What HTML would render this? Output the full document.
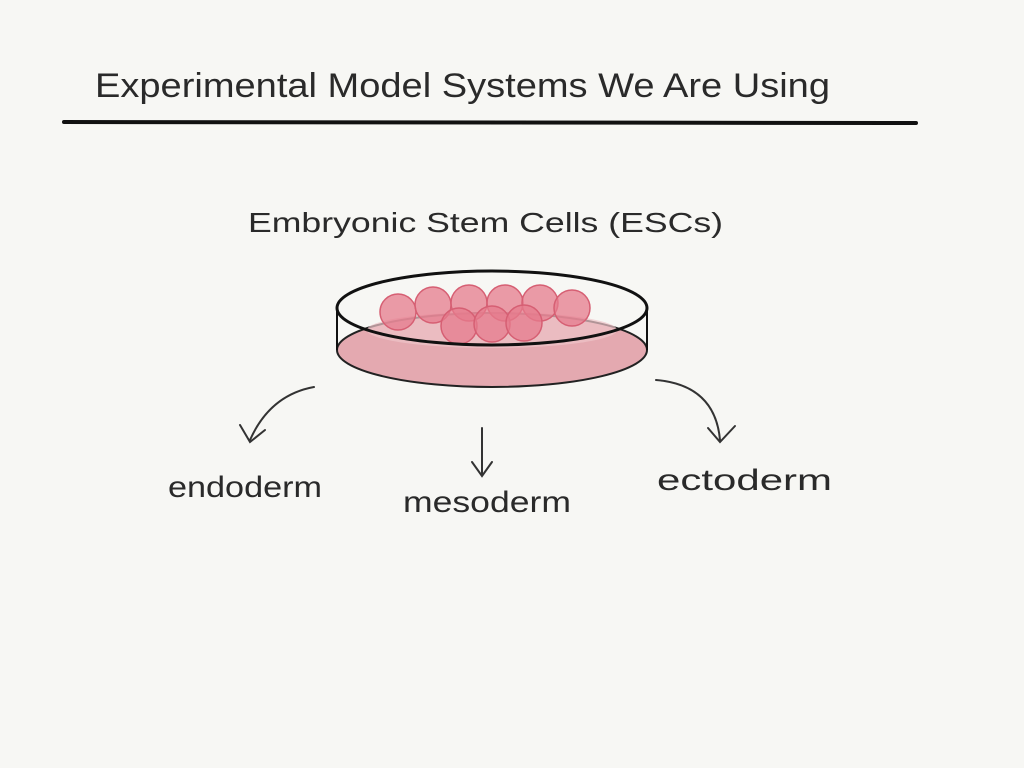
<!DOCTYPE html>
<html><head><style>
body{margin:0;background:#f7f7f4;}
svg{display:block}
text{font-family:"Liberation Sans",sans-serif;fill:#2a2a2a}
</style></head><body>
<svg width="1024" height="768" viewBox="0 0 1024 768">
<rect width="1024" height="768" fill="#f7f7f4"/>
<text x="95" y="97" font-size="34" textLength="735" lengthAdjust="spacingAndGlyphs">Experimental Model Systems We Are Using</text>
<line x1="64" y1="122" x2="916" y2="123" stroke="#111" stroke-width="4" stroke-linecap="round"/>
<text x="248" y="232" font-size="28" textLength="475" lengthAdjust="spacingAndGlyphs">Embryonic Stem Cells (ESCs)</text>
<ellipse cx="492" cy="350" rx="155" ry="37" fill="#e4a9b0" stroke="#222" stroke-width="2"/>
<ellipse cx="492" cy="330" rx="125" ry="18" fill="#eec4c9" opacity="0.7"/>
<g fill="#e57b8c" fill-opacity="0.75" stroke="#d65f73" stroke-width="1.5">
<circle cx="398" cy="312" r="18"/><circle cx="433" cy="305" r="18"/><circle cx="469" cy="303" r="18"/><circle cx="505" cy="303" r="18"/><circle cx="540" cy="303" r="18"/><circle cx="572" cy="308" r="18"/>
<circle cx="459" cy="326" r="18"/><circle cx="492" cy="324" r="18"/><circle cx="524" cy="323" r="18"/>
</g>
<ellipse cx="492" cy="308" rx="155" ry="37" fill="none" stroke="#111" stroke-width="3"/>
<line x1="337" y1="308" x2="337" y2="350" stroke="#111" stroke-width="2"/>
<line x1="647" y1="308" x2="647" y2="350" stroke="#111" stroke-width="2"/>
<g fill="none" stroke="#333" stroke-width="2" stroke-linecap="round">
<path d="M314 387 Q270 395 250 440"/><path d="M240 425 L250 442 L265 430"/>
<path d="M482 428 L482 475"/><path d="M472 462 L482 476 L492 462"/>
<path d="M656 380 Q715 385 720 440"/><path d="M708 428 L720 442 L735 426"/>
</g>
<text x="168" y="497" font-size="30" textLength="154" lengthAdjust="spacingAndGlyphs">endoderm</text>
<text x="403" y="512" font-size="30" textLength="168" lengthAdjust="spacingAndGlyphs">mesoderm</text>
<text x="657" y="490" font-size="30" textLength="175" lengthAdjust="spacingAndGlyphs">ectoderm</text>
</svg>
</body></html>
